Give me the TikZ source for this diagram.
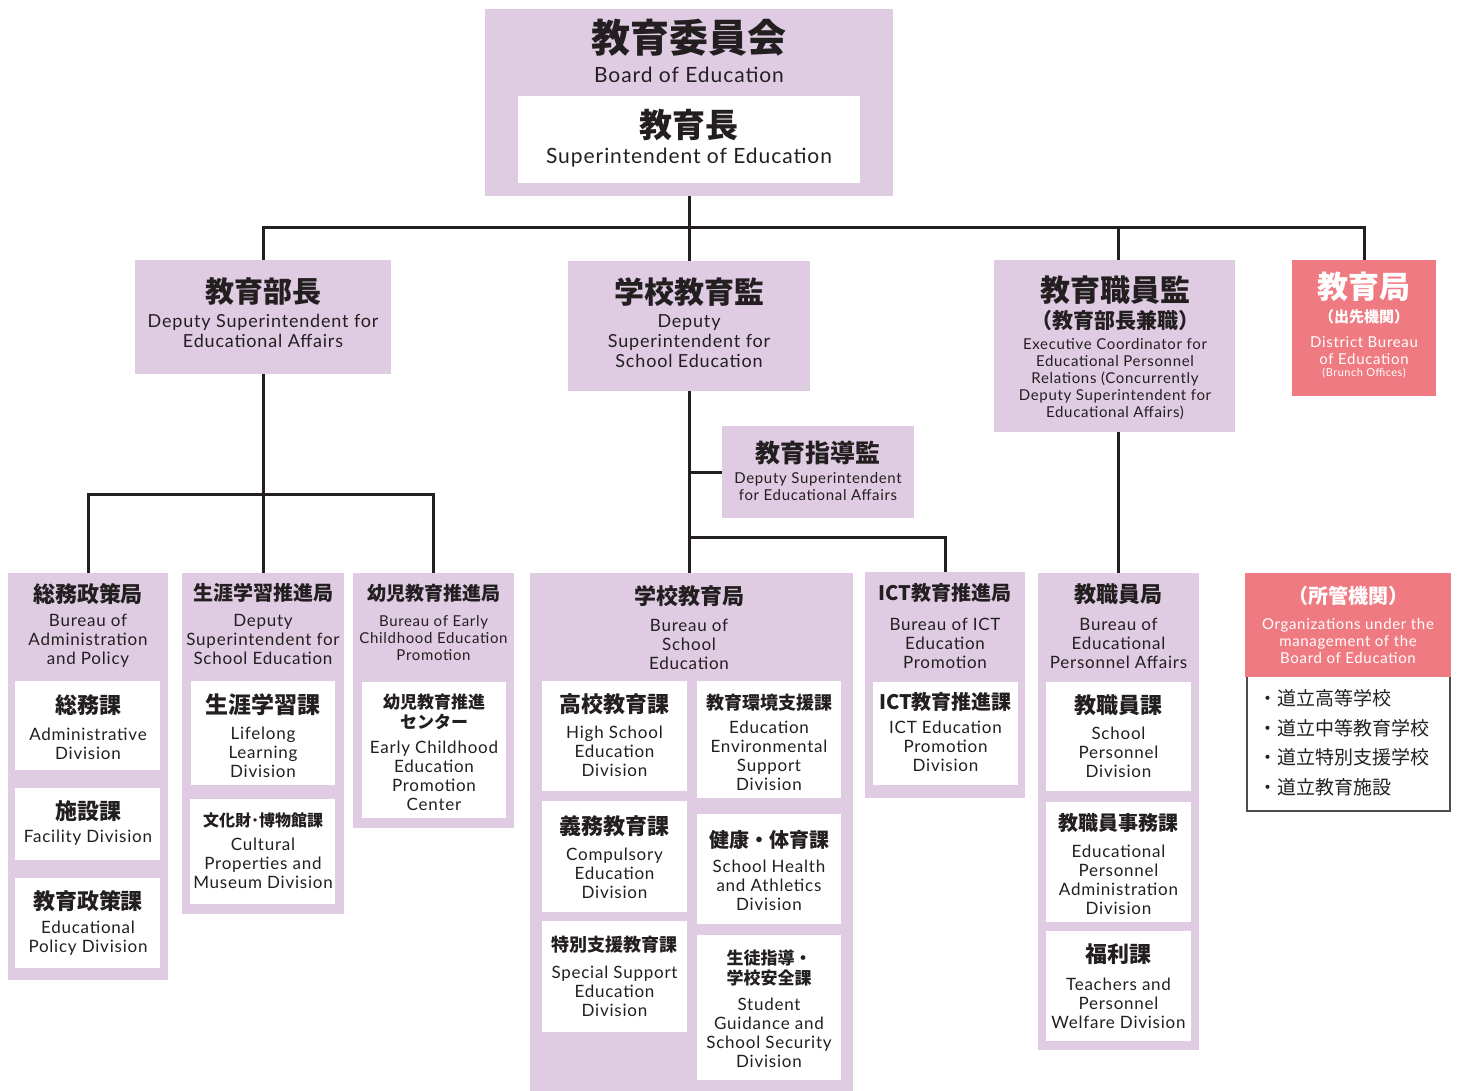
\documentclass[tikz,border=0pt]{standalone}
\usepackage{fontspec}
\newfontfamily\jpfont{Noto Sans CJK JP}
\newfontfamily\enfont[LetterSpace=4.5]{Lato}
\usetikzlibrary{fit}
\definecolor{lav}{RGB}{223,204,227}
\definecolor{rose}{RGB}{240,122,129}
\definecolor{ink}{RGB}{35,31,32}
\begin{document}
\begin{tikzpicture}[x=1pt,y=-1pt,
 bx/.style={inner sep=0pt, outer sep=0pt, draw=none},
 lavbox/.style={bx, fill=lav},
 whitebox/.style={bx, fill=white},
 redbox/.style={bx, fill=rose},
 listbox/.style={inner sep=0pt, outer sep=0pt, fill=white, draw=ink!80, line width=1.3pt},
 jp/.style={font=\jpfont\bfseries\fontsize{#1}{#1}\selectfont, text=ink, inner sep=0pt, align=center},
 jptwo/.style 2 args={font=\jpfont\bfseries\fontsize{#1}{#2}\selectfont, text=ink, inner sep=0pt, align=center},
 jpr/.style 2 args={font=\jpfont\fontsize{#1}{#2}\selectfont, text=ink, inner sep=0pt, align=left},
 en/.style 2 args={font=\enfont\fontsize{#1}{#2}\selectfont, text=ink, inner sep=0pt, align=center},
 link/.style={draw=ink, line width=3pt}
]
\fill[white] (0,0) rectangle (1457,1091);
\useasboundingbox (0,0) rectangle (1457,1091);

% ---------- top ----------
\node[lavbox, fit={(485,9)(893,196)}] (board) {};
\node[whitebox, fit={(518,96)(860,183)}] (supt) {};
\node[jp=39] (t-board) at (689,38) {教育委員会};
\node[en={21}{24}] (e-board) at (689,75) {Board of Education};
\node[jp=33] (t-supt) at (689,125) {教育長};
\node[en={21}{24}] (e-supt) at (689,158) {Superintendent of Education};

% ---------- second level ----------
\node[lavbox, fit={(135,260)(391,374)}] (dep) {};
\node[jp=29] (t-dep) at (263,292) {教育部長};
\node[en={18}{20}] (e-dep) at (263,331) {Deputy Superintendent for\\Educational Affairs};

\node[lavbox, fit={(568,261)(810,391)}] (sch) {};
\node[jp=30] (t-sch) at (689,292) {学校教育監};
\node[en={18}{20}] (e-sch) at (689,341) {Deputy\\Superintendent for\\School Education};

\node[lavbox, fit={(994,260)(1235,432)}] (exec) {};
\node[jp=30] (t-exec) at (1115,290) {教育職員監};
\node[jp=21] (t-exec2) at (1115,321) {（教育部長兼職）};
\node[en={15}{17}] (e-exec) at (1115,379) {Executive Coordinator for\\Educational Personnel\\Relations (Concurrently\\Deputy Superintendent for\\Educational Affairs)};

\node[redbox, fit={(1292,260)(1436,396)}] (dist) {};
\node[jp=31, text=white] (t-dist) at (1364,287) {教育局};
\node[jp=15, text=white] (t-dist2) at (1364,317) {（出先機関）};
\node[en={15}{17}, text=white] (e-dist) at (1364,350.5) {District Bureau\\of Education};
\node[en={11}{12}, text=white] (e-dist2) at (1364,373) {(Brunch Offices)};

\node[lavbox, fit={(722,426)(914,518)}] (shido) {};
\node[jp=25] (t-shido) at (818,453) {教育指導監};
\node[en={15}{17}] (e-shido) at (818,486.5) {Deputy Superintendent\\for Educational Affairs};

% ---------- bureaus ----------
% 総務政策局
\node[lavbox, fit={(8,573)(168,980)}] (somu) {};
\node[jp=22] (t-somu) at (88,594) {総務政策局};
\node[en={17}{19}] (e-somu) at (88,641) {Bureau of\\Administration\\and Policy};
\node[whitebox, fit={(15,681)(160,770)}] (somuka) {};
\node[jp=22] (t-somuka) at (88,705) {総務課};
\node[en={17}{19}] (e-somuka) at (88,743.5) {Administrative\\Division};
\node[whitebox, fit={(15,788)(160,860)}] (shisetsu) {};
\node[jp=22] (t-shisetsu) at (88,811) {施設課};
\node[en={17}{19}] (e-shisetsu) at (88,838) {Facility Division};
\node[whitebox, fit={(15,878)(160,968)}] (seisaku) {};
\node[jp=22] (t-seisaku) at (88,901) {教育政策課};
\node[en={17}{19}] (e-seisaku) at (88,938.5) {Educational\\Policy Division};

% 生涯学習推進局
\node[lavbox, fit={(182,573)(344,914)}] (shogai) {};
\node[jp=20] (t-shogai) at (263,593) {生涯学習推進局};
\node[en={17}{19}] (e-shogai) at (263,639) {Deputy\\Superintendent for\\School Education};
\node[whitebox, fit={(191,681)(335,785)}] (shogaika) {};
\node[jp=23] (t-shogaika) at (263,705) {生涯学習課};
\node[en={17}{19}] (e-shogaika) at (263,752.5) {Lifelong\\Learning\\Division};
\node[whitebox, fit={(190,799)(335,904)}] (bunka) {};
\node[jp=16] (t-bunka) at (263,820) {文化財･博物館課};
\node[en={17}{19}] (e-bunka) at (263,863.5) {Cultural\\Properties and\\Museum Division};

% 幼児教育推進局
\node[lavbox, fit={(353,573)(514,828)}] (yoji) {};
\node[jp=19] (t-yoji) at (433.5,593) {幼児教育推進局};
\node[en={15}{17}] (e-yoji) at (433.5,638) {Bureau of Early\\Childhood Education\\Promotion};
\node[whitebox, fit={(362,682)(506,818)}] (yojic) {};
\node[jptwo={17}{20}] (t-yojic) at (434,712) {幼児教育推進\\センター};
\node[en={17}{19}] (e-yojic) at (434,775.5) {Early Childhood\\Education\\Promotion\\Center};

% 学校教育局
\node[lavbox, fit={(530,573)(853,1091)}] (gakko) {};
\node[jp=22] (t-gakko) at (689,596) {学校教育局};
\node[en={17}{19}] (e-gakko) at (689,644) {Bureau of\\School\\Education};
\node[whitebox, fit={(542,681)(687,791)}] (koko) {};
\node[jp=22] (t-koko) at (614.5,704) {高校教育課};
\node[en={17}{19}] (e-koko) at (614.5,751.5) {High School\\Education\\Division};
\node[whitebox, fit={(697,681)(841,798)}] (kankyo) {};
\node[jp=18] (t-kankyo) at (769,703) {教育環境支援課};
\node[en={17}{19}] (e-kankyo) at (769,756) {Education\\Environmental\\Support\\Division};
\node[whitebox, fit={(542,801)(687,912)}] (gimu) {};
\node[jp=22] (t-gimu) at (614.5,826) {義務教育課};
\node[en={17}{19}] (e-gimu) at (614.5,873.5) {Compulsory\\Education\\Division};
\node[whitebox, fit={(697,814)(841,924)}] (kenko) {};
\node[jp=20] (t-kenko) at (769,840) {健康・体育課};
\node[en={17}{19}] (e-kenko) at (769,885.5) {School Health\\and Athletics\\Division};
\node[whitebox, fit={(542,921)(687,1032)}] (tokubetsu) {};
\node[jp=18] (t-tokubetsu) at (614.5,945) {特別支援教育課};
\node[en={17}{19}] (e-tokubetsu) at (614.5,991) {Special Support\\Education\\Division};
\node[whitebox, fit={(697,935)(841,1080)}] (seito) {};
\node[jptwo={17}{20}] (t-seito) at (769,968) {生徒指導・\\学校安全課};
\node[en={17}{19}] (e-seito) at (769,1032.5) {Student\\Guidance and\\School Security\\Division};

% ICT教育推進局
\node[lavbox, fit={(865,572)(1025,798)}] (ict) {};
\node[jp=20] (t-ict) at (945,593) {ICT教育推進局};
\node[en={17}{19}] (e-ict) at (945,643.5) {Bureau of ICT\\Education\\Promotion};
\node[whitebox, fit={(873,682)(1018,785)}] (ictka) {};
\node[jp=20] (t-ictka) at (945.5,702) {ICT教育推進課};
\node[en={17}{19}] (e-ictka) at (945.5,746.5) {ICT Education\\Promotion\\Division};

% 教職員局
\node[lavbox, fit={(1038,573)(1199,1050)}] (kyoshoku) {};
\node[jp=22] (t-kyoshoku) at (1118.5,594) {教職員局};
\node[en={17}{19}] (e-kyoshoku) at (1118.5,643) {Bureau of\\Educational\\Personnel Affairs};
\node[whitebox, fit={(1046,682)(1191,791)}] (kyoshokuka) {};
\node[jp=22] (t-kyoshokuka) at (1118.5,705) {教職員課};
\node[en={17}{19}] (e-kyoshokuka) at (1118.5,752) {School\\Personnel\\Division};
\node[whitebox, fit={(1046,802)(1191,922)}] (jimu) {};
\node[jp=20] (t-jimu) at (1118.5,823) {教職員事務課};
\node[en={17}{19}] (e-jimu) at (1118.5,879.5) {Educational\\Personnel\\Administration\\Division};
\node[whitebox, fit={(1046,931)(1191,1041)}] (fukuri) {};
\node[jp=22] (t-fukuri) at (1118.5,954) {福利課};
\node[en={17}{19}] (e-fukuri) at (1118.5,1003) {Teachers and\\Personnel\\Welfare Division};

% 所管機関
\node[listbox, fit={(1247,676)(1450,811)}] (shokanlist) {};
\node[redbox, fit={(1245,573)(1451,677)}] (shokan) {};
\node[jp=20, text=white] (t-shokan) at (1348,596) {（所管機関）};
\node[en={15}{17}, text=white] (e-shokan) at (1348,641) {Organizations under the\\management of the\\Board of Education};
\node[jpr={19}{29.5}, anchor=west] (l-shokan) at (1258,743) {・道立高等学校\\・道立中等教育学校\\・道立特別支援学校\\・道立教育施設};

% ---------- connectors ----------
\coordinate (bar) at (689,228);
\coordinate (bar2) at (263,494);
\coordinate (bar3) at (689,537);
\draw[link] (board.south) -- (bar);
\draw[link] (dep.north) -- (dep.north |- bar) -- (dist.north |- bar) -- (dist.north);
\draw[link] (sch.north |- bar) -- (sch.north);
\draw[link] (kyoshoku.north |- bar) -- (kyoshoku.north |- exec.north);
\draw[link] (kyoshoku.north |- exec.south) -- (kyoshoku.north);
\draw[link] (dep.south) -- (bar2);
\draw[link] (somu.north) |- (bar2) -| (yoji.north);
\draw[link] (bar2) -- (shogai.north);
\draw[link] (sch.south) -- (sch.south |- gakko.north);
\draw[link] (sch.south |- shido.west) -- (shido.west);
\draw[link] (bar3) -| (ict.north);
\end{tikzpicture}
\end{document}
